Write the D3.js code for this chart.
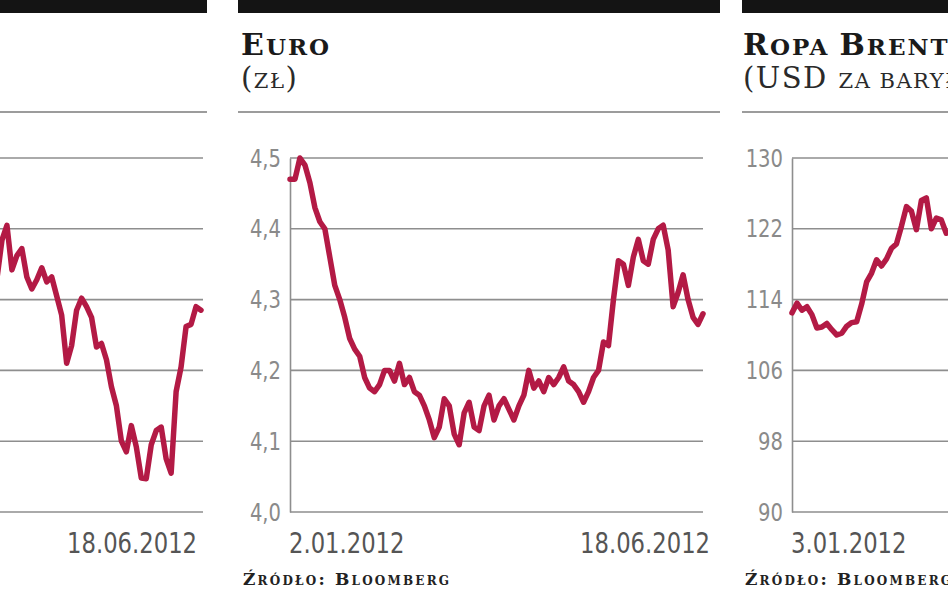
<!DOCTYPE html>
<html><head><meta charset="utf-8">
<script src="https://cdn.jsdelivr.net/npm/d3@7/dist/d3.min.js"></script>
<style>body{margin:0;background:#fff;overflow:hidden} svg{display:block}</style>
</head><body>
<svg id="c" width="948" height="593"></svg>
<script>
// ---------- data ----------
const nDays = 84; // sampled trading days, 2.01.2012 – 18.06.2012
const startLabels = [null, "2.01.2012", "3.01.2012"];
const endLabels = ["18.06.2012", "18.06.2012", null];
const sourceText = "Źródło: Bloomberg";

// left panel (cut off, title and axis not visible) – WIG20-like index
const wigTicks = [2000, 2100, 2200, 2300, 2400, 2500];
const wigStartIndex = 42;
const wigValues = [2330, 2384, 2405, 2342, 2362, 2372, 2332, 2315, 2328, 2345, 2325, 2332, 2305, 2278, 2210, 2235,
  2285, 2302, 2290, 2275, 2233, 2238, 2215, 2177, 2150, 2100, 2085, 2122, 2092, 2048, 2047, 2095, 2115, 2120,
  2075, 2055, 2170, 2205, 2262, 2265, 2290, 2285];

// Euro (zł)
const euroTicks = [4.0, 4.1, 4.2, 4.3, 4.4, 4.5];
const euroValues = [4.47, 4.47, 4.50, 4.49, 4.465, 4.43, 4.41, 4.40, 4.36, 4.32, 4.30, 4.275, 4.245, 4.23, 4.22,
  4.19, 4.175, 4.17, 4.18, 4.20, 4.20, 4.185, 4.21, 4.18, 4.19, 4.17, 4.165, 4.15, 4.13, 4.105, 4.12, 4.16, 4.15,
  4.11, 4.095, 4.14, 4.155, 4.12, 4.115, 4.15, 4.165, 4.13, 4.15, 4.16, 4.145, 4.13, 4.15, 4.165, 4.20, 4.175,
  4.185, 4.17, 4.19, 4.18, 4.19, 4.205, 4.185, 4.18, 4.17, 4.155, 4.17, 4.19, 4.20, 4.24, 4.235, 4.30, 4.355,
  4.35, 4.32, 4.36, 4.385, 4.355, 4.35, 4.385, 4.40, 4.405, 4.37, 4.29, 4.31, 4.335, 4.30, 4.275, 4.265, 4.28];

// Ropa Brent (USD za baryłkę) – visible part only
const brentTicks = [90, 98, 106, 114, 122, 130];
const brentValues = [112.5, 113.6, 112.8, 113.2, 112.3, 110.8, 110.9, 111.3, 110.6, 110.0, 110.2, 111.0, 111.4,
  111.5, 113.5, 116.0, 117.0, 118.5, 117.8, 118.6, 119.8, 120.3, 122.3, 124.5, 124.0, 121.9, 125.2, 125.5,
  122.0, 123.2, 123.0, 121.5];

// ---------- layout ----------
const svg = d3.select("#c");
const lineColor = "#b31a45";
const gridColor = "#8e8e8e";
const numFont = "'DejaVu Sans Condensed','DejaVu Sans',sans-serif";
const serif = "'DejaVu Serif','Liberation Serif',serif";
const plotTop = 158, plotBottom = 512, plotW = 413;
const squeeze = 0.87;

const panels = [
  {x0: -262, barL: 0, barR: 207, ticks: wigTicks, values: wigValues, start: wigStartIndex,
   fmt: d3.format("d"), endDx: -4, gridExtra: 2, hidden: true},
  {x0: 240, barL: 238, barR: 720, ticks: euroTicks, values: euroValues, start: 0,
   fmt: d => d3.format(".1f")(d).replace(".", ","), endDx: 7, gridExtra: 0,
   title: [["E", 30], ["uro", 23]], sub: [["(", 29], ["zł", 21], [")", 29]]},
  {x0: 742, barL: 742, barR: 948, ticks: brentTicks, values: brentValues, start: 0,
   fmt: d3.format("d"), endDx: 7, gridExtra: 300,
   title: [["R", 30], ["opa ", 23], ["B", 30], ["rent", 23]], sub: [["(USD ", 29], ["za baryłkę)", 21]]}
];

function label(g, x, y, txt, anchor) {
  g.append("text").attr("transform", `translate(${x},${y}) scale(${squeeze},1)`)
    .attr("text-anchor", anchor).attr("font-family", numFont).attr("font-size", 29)
    .attr("fill", "#555").text(txt);
}

panels.forEach((p, pi) => {
  const g = svg.append("g");
  const left = p.x0 + 50;
  g.append("rect").attr("x", p.barL).attr("y", 0).attr("width", p.barR - p.barL).attr("height", 13).attr("fill", "#141414");
  g.append("line").attr("x1", p.barL).attr("x2", p.barR).attr("y1", 112).attr("y2", 112)
    .attr("stroke", "#9c9c9c").attr("stroke-width", 2);
  if (p.title) {
    const t = g.append("text").attr("x", p.x0 + 1).attr("y", 55).attr("font-family", serif)
      .attr("font-weight", "bold").attr("fill", "#1a1a1a").attr("letter-spacing", 2);
    p.title.forEach(([s, fs]) => t.append("tspan").attr("font-size", fs).style("text-transform", "uppercase").text(s));
    const s2 = g.append("text").attr("x", p.x0 + 1).attr("y", 88).attr("font-family", serif)
      .attr("fill", "#2a2a2a").attr("letter-spacing", 1.5);
    p.sub.forEach(([s, fs]) => s2.append("tspan").attr("font-size", fs).style("text-transform", "uppercase").text(s));
  }
  const x = d3.scaleLinear().domain([0, nDays - 1]).range([left, left + plotW]);
  const y = d3.scaleLinear().domain([p.ticks[0], p.ticks[p.ticks.length - 1]]).range([plotBottom, plotTop]);
  g.append("g").selectAll("line").data(p.ticks).join("line")
    .attr("x1", left).attr("x2", left + plotW + p.gridExtra)
    .attr("y1", d => y(d)).attr("y2", d => y(d))
    .attr("stroke", gridColor).attr("stroke-width", 1.6);
  if (!p.hidden) {
    const ax = g.append("g").attr("transform", `translate(${left},0)`)
      .call(d3.axisLeft(y).tickValues(p.ticks).tickSize(0).tickPadding(9).tickFormat(p.fmt));
    ax.select(".domain").attr("stroke", gridColor).attr("stroke-width", 1.6);
    ax.selectAll("text").attr("font-family", numFont).attr("font-size", 25).attr("fill", "#8a8a8a")
      .attr("transform", `scale(${squeeze},1)`).attr("x", -9 / squeeze);
  }
  const line = d3.line().x((d, i) => x(p.start + i)).y(d => y(d)).curve(d3.curveLinear);
  g.append("path").datum(p.values).attr("d", line).attr("fill", "none")
    .attr("stroke", lineColor).attr("stroke-width", 5.5).attr("stroke-linejoin", "round").attr("stroke-linecap", "round");
  if (startLabels[pi]) label(g, left - 1, 553, startLabels[pi], "start");
  if (endLabels[pi]) label(g, left + plotW + p.endDx, 553, endLabels[pi], "end");
  if (!p.hidden) {
    g.append("text").attr("x", p.x0 + 3).attr("y", 585).attr("font-family", serif).attr("font-weight", "bold")
      .attr("font-size", 17).attr("font-variant", "small-caps").attr("letter-spacing", 2.2)
      .attr("fill", "#222").text(sourceText);
  }
});
</script>
</body></html>
